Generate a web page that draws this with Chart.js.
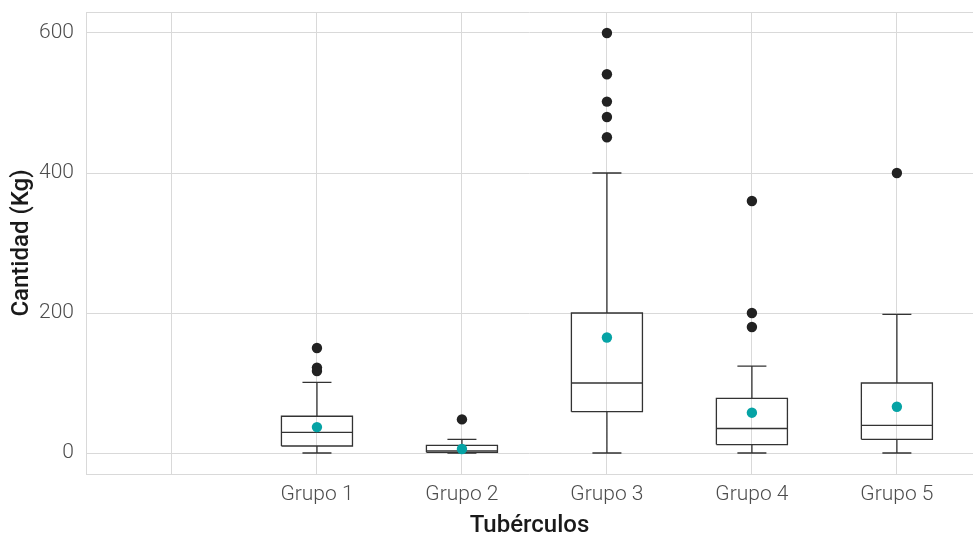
<!DOCTYPE html>
<html>
<head>
<meta charset="utf-8">
<script src="https://cdn.jsdelivr.net/npm/chart.js@4"></script>
<style>
    html, body { margin: 0; padding: 0; background: #fff; }
    #wrap { width: 973px; height: 536px; }
</style>
</head>
<body>
<div id="wrap"><canvas id="boxChart"></canvas></div>
<script>
// Data
const categories = ["", "Grupo 1", "Grupo 2", "Grupo 3", "Grupo 4", "Grupo 5"];
const lowWhisker = [0, 0, 0, 0, 0];
const q1 = [10, 1, 59, 12, 19.5];
const median = [29.5, 3, 100, 35, 39.5];
const q3 = [52.5, 11, 200, 78, 100];
const highWhisker = [101, 19.5, 400, 124, 198];
const means = [37, 5.7, 165, 57.6, 66];
const outliers = [
    [150, 122, 117],
    [48],
    [600, 541, 502, 480, 451],
    [360, 200, 180],
    [400]
];
const yTicks = [0, 200, 400, 600];

const boxHalf = 0.245;
const capHalf = 0.1;
const xMin = -0.593;
const xMax = 5.525;
const yMin = -30;
const yMax = 630;

// Build the box outlines, medians and whiskers as one line path with gaps
let boxLines = [];
let gap = function (x) { boxLines.push({ x: x, y: null }); };
median.forEach((m, i) => {
    let x = i + 1;
    boxLines.push({ x: x - boxHalf, y: q1[i] }, { x: x + boxHalf, y: q1[i] },
        { x: x + boxHalf, y: q3[i] }, { x: x - boxHalf, y: q3[i] }, { x: x - boxHalf, y: q1[i] });
    gap(x);
    boxLines.push({ x: x - boxHalf, y: m }, { x: x + boxHalf, y: m });
    gap(x);
    boxLines.push({ x: x, y: q3[i] }, { x: x, y: highWhisker[i] });
    gap(x);
    boxLines.push({ x: x - capHalf, y: highWhisker[i] }, { x: x + capHalf, y: highWhisker[i] });
    gap(x);
    boxLines.push({ x: x, y: q1[i] }, { x: x, y: lowWhisker[i] });
    gap(x);
    boxLines.push({ x: x - capHalf, y: lowWhisker[i] }, { x: x + capHalf, y: lowWhisker[i] });
    gap(x);
});

let outlierPoints = [];
outliers.forEach((list, i) => {
    list.forEach(v => outlierPoints.push({ x: i + 1, y: v }));
});
let meanPoints = means.map((v, i) => ({ x: i + 1, y: v }));

const gridColor = "#d9d9d9";
const tickFont = { family: "Roboto", size: 21, weight: 300 };
const titleFont = { family: "Roboto", size: 24, weight: 500, lineHeight: 0.85 };

new Chart(document.getElementById("boxChart"), {
    type: "scatter",
    data: {
        datasets: [
            {
                label: "cajas",
                data: boxLines,
                showLine: true,
                spanGaps: false,
                borderColor: "#333333",
                borderWidth: 1.3,
                pointRadius: 0,
                order: 3
            },
            {
                label: "atipicos",
                data: outlierPoints,
                pointRadius: 5.2,
                backgroundColor: "#222222",
                borderWidth: 0,
                order: 2
            },
            {
                label: "media",
                data: meanPoints,
                pointRadius: 5.2,
                backgroundColor: "#06a3a5",
                borderWidth: 0,
                order: 1
            }
        ]
    },
    options: {
        responsive: true,
        maintainAspectRatio: false,
        animation: false,
        events: [],
        layout: { autoPadding: false, padding: { top: 12, right: 0, left: 0, bottom: 0 } },
        plugins: {
            legend: { display: false },
            tooltip: { enabled: false }
        },
        scales: {
            x: {
                type: "linear",
                min: xMin,
                max: xMax,
                afterBuildTicks: function (scale) {
                    scale.ticks = [{ value: xMin }].concat(categories.map((c, i) => ({ value: i })));
                },
                afterFit: function (scale) {
                    scale.height = 62;
                    scale.paddingLeft = 0;
                    scale.paddingRight = 0;
                },
                ticks: {
                    autoSkip: false,
                    maxRotation: 0,
                    padding: 8,
                    color: "#4d4d4d",
                    font: tickFont,
                    callback: function (value) {
                        return Number.isInteger(value) ? categories[value] : "";
                    }
                },
                grid: { color: gridColor, lineWidth: 1, drawTicks: false },
                border: { display: false },
                title: {
                    display: true,
                    text: "Tubérculos",
                    color: "#1a1a1a",
                    font: titleFont,
                    padding: { top: 0, bottom: 0 }
                }
            },
            y: {
                min: yMin,
                max: yMax,
                afterBuildTicks: function (scale) {
                    scale.ticks = [{ value: yMin }].concat(yTicks.map(v => ({ value: v })), [{ value: yMax }]);
                },
                afterFit: function (scale) {
                    scale.width = 86;
                    scale.paddingTop = 0;
                    scale.paddingBottom = 0;
                },
                ticks: {
                    padding: 12,
                    color: "#4d4d4d",
                    font: tickFont,
                    callback: function (value) {
                        return yTicks.indexOf(value) > -1 ? String(value) : "";
                    }
                },
                grid: { color: gridColor, lineWidth: 1, drawTicks: false },
                border: { display: false },
                title: {
                    display: true,
                    text: "Cantidad (Kg)",
                    color: "#1a1a1a",
                    font: titleFont,
                    padding: { top: 12, bottom: 0 }
                }
            }
        }
    }
});
</script>
</body>
</html>
